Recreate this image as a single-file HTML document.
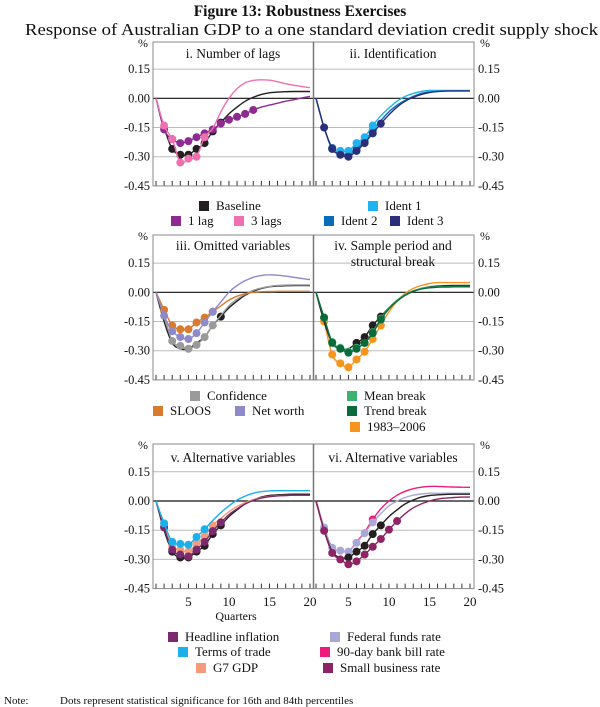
<!DOCTYPE html>
<html><head><meta charset="utf-8"><style>
body{margin:0;background:#fff;}
svg{display:block;font-family:"Liberation Serif",serif;}
</style></head><body>
<svg id="chart" width="600" height="707"></svg>
<script>
const quarters=[1,2,3,4,5,6,7,8,9,10,11,12,13,14,15,16,17,18,19,20];
const yTicks=[0.15,0,-0.15,-0.30,-0.45];
const yTickLabels=["0.15","0.00","-0.15","-0.30","-0.45"];
const xTickLabels=[5,10,15,20];
const baseline=[0,-0.15,-0.26,-0.29,-0.29,-0.26,-0.23,-0.17,-0.125,-0.08,-0.045,-0.015,0.005,0.02,0.028,0.032,0.034,0.035,0.035,0.035];
const lag1=[0,-0.16,-0.21,-0.23,-0.22,-0.2,-0.18,-0.16,-0.13,-0.11,-0.095,-0.08,-0.06,-0.045,-0.035,-0.025,-0.015,-0.007,0.002,0.01];
const lag3=[0,-0.14,-0.21,-0.33,-0.31,-0.3,-0.2,-0.155,-0.07,0.0,0.05,0.08,0.092,0.095,0.093,0.085,0.075,0.067,0.06,0.055];
const ident1=[0,-0.15,-0.26,-0.27,-0.27,-0.23,-0.2,-0.14,-0.09,-0.05,-0.015,0.01,0.025,0.035,0.04,0.04,0.04,0.04,0.04,0.04];
const ident2=[0,-0.15,-0.255,-0.285,-0.29,-0.26,-0.22,-0.165,-0.115,-0.07,-0.035,-0.01,0.01,0.025,0.032,0.036,0.038,0.038,0.038,0.038];
const ident3=[0,-0.15,-0.26,-0.29,-0.30,-0.27,-0.23,-0.18,-0.13,-0.085,-0.045,-0.015,0.005,0.02,0.03,0.035,0.037,0.038,0.038,0.038];
const confidence=[0,-0.12,-0.25,-0.275,-0.29,-0.27,-0.23,-0.17,-0.12,-0.07,-0.035,-0.01,0.01,0.022,0.03,0.035,0.037,0.038,0.038,0.038];
const sloos=[0,-0.09,-0.17,-0.19,-0.19,-0.155,-0.13,-0.10,-0.07,-0.04,-0.02,-0.007,0,0.003,0.004,0.005,0.005,0.005,0.005,0.005];
const netWorth=[0,-0.12,-0.2,-0.23,-0.24,-0.21,-0.155,-0.10,-0.05,0.0,0.035,0.06,0.077,0.087,0.09,0.088,0.083,0.077,0.071,0.065];
const meanBreak=[0,-0.13,-0.255,-0.285,-0.305,-0.285,-0.26,-0.205,-0.135,-0.08,-0.04,-0.012,0.008,0.02,0.026,0.028,0.029,0.03,0.03,0.03];
const trendBreak=[0,-0.13,-0.26,-0.29,-0.31,-0.29,-0.26,-0.21,-0.14,-0.085,-0.045,-0.015,0.005,0.017,0.023,0.026,0.027,0.028,0.028,0.028];
const sample8306=[0,-0.15,-0.32,-0.365,-0.385,-0.345,-0.305,-0.24,-0.17,-0.1,-0.045,-0.005,0.02,0.035,0.045,0.05,0.05,0.05,0.05,0.05];
const headline=[0,-0.136,-0.25,-0.275,-0.285,-0.25,-0.21,-0.155,-0.11,-0.07,-0.04,-0.015,0.003,0.015,0.022,0.026,0.028,0.03,0.03,0.03];
const termsTrade=[0,-0.115,-0.21,-0.22,-0.225,-0.185,-0.145,-0.10,-0.06,-0.025,0.005,0.025,0.04,0.048,0.052,0.053,0.053,0.053,0.053,0.053];
const g7=[0,-0.13,-0.23,-0.25,-0.26,-0.22,-0.18,-0.125,-0.09,-0.055,-0.028,-0.008,0.007,0.017,0.023,0.027,0.029,0.03,0.03,0.03];
const fedFunds=[0,-0.136,-0.24,-0.255,-0.26,-0.215,-0.165,-0.11,-0.065,-0.025,0.0,0.018,0.03,0.036,0.04,0.04,0.04,0.04,0.04,0.04];
const bill90=[0,-0.136,-0.24,-0.255,-0.26,-0.21,-0.16,-0.095,-0.04,0.0,0.03,0.05,0.063,0.071,0.075,0.075,0.073,0.072,0.071,0.07];
const smallBiz=[0,-0.153,-0.267,-0.3,-0.325,-0.31,-0.275,-0.235,-0.195,-0.147,-0.103,-0.065,-0.035,-0.015,0.0,0.01,0.015,0.018,0.02,0.02];

const NS="http://www.w3.org/2000/svg";
const svg=document.getElementById('chart');
function mk(tag,attrs,parent){const e=document.createElementNS(NS,tag);for(const k in attrs)e.setAttribute(k,attrs[k]);(parent||svg).appendChild(e);return e;}
function txt(s,x,y,size,anchor,weight,name){const t=mk('text',{x:x,y:y,'font-size':size,'text-anchor':anchor||'start','font-weight':weight||'normal',fill:'#111'});t.textContent=s;


return t;}

txt('Figure 13: Robustness Exercises',300,16,15.5,'middle','bold','chart-title');
const sub=txt('Response of Australian GDP to a one standard deviation credit supply shock',25,35,17,'start','normal','chart-subtitle');
sub.setAttribute('textLength','573');
sub.setAttribute('lengthAdjust','spacingAndGlyphs');

const rows=[{top:42,zero:98.3},{top:235,zero:292.3},{top:444,zero:501}];
const UNIT=29.2/0.15;
const PL=[153,313],PW=161;
function xs(p,q){return PL[p]+3+(q-1)*(154/19);}
function ys(r,v){return rows[r].zero-v*UNIT;}

function smooth(pts){let d='M'+pts[0][0]+','+pts[0][1];
for(let i=0;i<pts.length-1;i++){const p0=pts[Math.max(0,i-1)],p1=pts[i],p2=pts[i+1],p3=pts[Math.min(pts.length-1,i+2)];
const c1=[p1[0]+(p2[0]-p0[0])/6,p1[1]+(p2[1]-p0[1])/6],c2=[p2[0]-(p3[0]-p1[0])/6,p2[1]-(p3[1]-p1[1])/6];
d+=' C'+c1[0].toFixed(1)+','+c1[1].toFixed(1)+' '+c2[0].toFixed(1)+','+c2[1].toFixed(1)+' '+p2[0].toFixed(1)+','+p2[1].toFixed(1);}
return d;}

function series(r,p,vals,color,dots,name){
  const g=mk('g',{});
  
  
  const pts=quarters.map((q,i)=>[xs(p,q),ys(r,vals[i])]);
  mk('path',{d:smooth(pts),fill:'none',stroke:color,'stroke-width':1.4},g);
  dots.forEach(q=>{const c=mk('circle',{cx:xs(p,q),cy:ys(r,vals[q-1]),r:4,fill:color},g);
    
    });
}
function range(a,b){const o=[];for(let i=a;i<=b;i++)o.push(i);return o;}

rows.forEach((row,r)=>{
  const bottom=row.zero+0.45*UNIT;
  const fr=mk('g',{});
  
  
  yTicks.forEach((v,i)=>{
    const y=ys(r,v);
    if(v!==0&&v!==-0.45) mk('line',{x1:153,x2:474,y1:y,y2:y,stroke:'#bbb','stroke-width':1},fr);
    txt(yTickLabels[i],150,y+4,12.5,'end','normal','y-tick-left');
    txt(yTickLabels[i],478,y+4,12.5,'start','normal','y-tick-right');
  });
  txt('%',148,row.top+5,12,'end','normal','y-unit-left');
  txt('%',480,row.top+5,12,'start','normal','y-unit-right');
  mk('line',{x1:153,x2:474,y1:row.zero,y2:row.zero,stroke:'#111','stroke-width':1.2},fr);
  [0,1].forEach(p=>{quarters.forEach(q=>{const x=xs(p,q);mk('line',{x1:x,x2:x,y1:bottom-5,y2:bottom,stroke:'#333','stroke-width':1},fr);});});
  mk('rect',{x:153,y:row.top,width:321,height:bottom-row.top,fill:'none',stroke:'#888','stroke-width':1},fr);
  mk('line',{x1:313.5,x2:313.5,y1:row.top,y2:bottom,stroke:'#777','stroke-width':1.5},fr);
});
[0,1].forEach(p=>xTickLabels.forEach(q=>txt(String(q),xs(p,q),606,13,'middle','normal','x-tick')));
txt('Quarters',236,620,12,'middle','normal','x-axis-title');

txt('i. Number of lags',233,58,13.5,'middle','normal','panel-i-title');
txt('ii. Identification',393,58,13.5,'middle','normal','panel-ii-title');
txt('iii. Omitted variables',233,250,13.5,'middle','normal','panel-iii-title');
txt('iv. Sample period and',393,250,13.5,'middle','normal','panel-iv-title');
txt('structural break',393,266,13.5,'middle','normal','panel-iv-title-2');
txt('v. Alternative variables',233,462,13.5,'middle','normal','panel-v-title');
txt('vi. Alternative variables',393,462,13.5,'middle','normal','panel-vi-title');

series(0,0,baseline,'#231f20',range(3,9),'baseline-i');
series(0,0,lag1,'#8e2a92',range(2,13),'one-lag');
series(0,0,lag3,'#f06fb0',range(2,7),'three-lags');
series(0,1,ident2,'#0a6cb8',range(3,8),'ident-2');
series(0,1,ident1,'#1fb4f0',range(3,8),'ident-1');
series(0,1,ident3,'#2b2e78',range(2,9),'ident-3');
series(1,0,baseline,'#231f20',[9],'baseline-iii');
series(1,0,confidence,'#9a9a9a',range(3,8),'confidence');
series(1,0,sloos,'#d97b2e',range(2,8),'sloos');
series(1,0,netWorth,'#8e89c8',range(2,8),'net-worth');
series(1,1,sample8306,'#f7941d',range(2,9),'sample-1983-2006');
series(1,1,baseline,'#231f20',range(6,9),'baseline-iv');
series(1,1,meanBreak,'#3cb371',range(2,9),'mean-break');
series(1,1,trendBreak,'#0a6b3a',range(2,9),'trend-break');
series(2,0,baseline,'#231f20',range(3,9),'baseline-v');
series(2,0,g7,'#f59a7a',range(2,8),'g7-gdp');
series(2,0,headline,'#7b2a6e',range(2,9),'headline-inflation');
series(2,0,termsTrade,'#1cb0eb',range(2,7),'terms-of-trade');
series(2,1,bill90,'#ee1b7b',[8],'bill-90-day');
series(2,1,fedFunds,'#a8a8d8',range(2,8),'federal-funds-rate');
series(2,1,baseline,'#231f20',range(5,9),'baseline-vi');
series(2,1,smallBiz,'#8e2464',range(2,11),'small-business-rate');

function leg(x,y,color,label,name){
  const g=mk('g',{});
  
  
  mk('rect',{x:x,y:y-9,width:10,height:10,fill:color},g);
  const t=mk('text',{x:x+17,y:y,'font-size':13,fill:'#111'},g);t.textContent=label;
}
leg(199,210,'#231f20','Baseline','legend-baseline');
leg(171,225,'#8e2a92','1 lag','legend-1-lag');
leg(234,225,'#f06fb0','3 lags','legend-3-lags');
leg(368,210,'#1fb4f0','Ident 1','legend-ident-1');
leg(324,225,'#0a6cb8','Ident 2','legend-ident-2');
leg(390,225,'#2b2e78','Ident 3','legend-ident-3');
leg(190,400,'#9a9a9a','Confidence','legend-confidence');
leg(153,415,'#d97b2e','SLOOS','legend-sloos');
leg(235,415,'#8e89c8','Net worth','legend-net-worth');
leg(347,400,'#3cb371','Mean break','legend-mean-break');
leg(347,415,'#0a6b3a','Trend break','legend-trend-break');
leg(350,431,'#f7941d','1983–2006','legend-1983-2006');
leg(168,641,'#7b2a6e','Headline inflation','legend-headline-inflation');
leg(178,656,'#1cb0eb','Terms of trade','legend-terms-of-trade');
leg(196,672,'#f59a7a','G7 GDP','legend-g7-gdp');
leg(330,641,'#a8a8d8','Federal funds rate','legend-federal-funds-rate');
leg(320,656,'#ee1b7b','90-day bank bill rate','legend-90-day-bank-bill-rate');
leg(323,672,'#8e2464','Small business rate','legend-small-business-rate');

txt('Note:',4,704,11,'start','normal','note-label');
txt('Dots represent statistical significance for 16th and 84th percentiles',60,704,11,'start','normal','note-text');
</script>
</body></html>
